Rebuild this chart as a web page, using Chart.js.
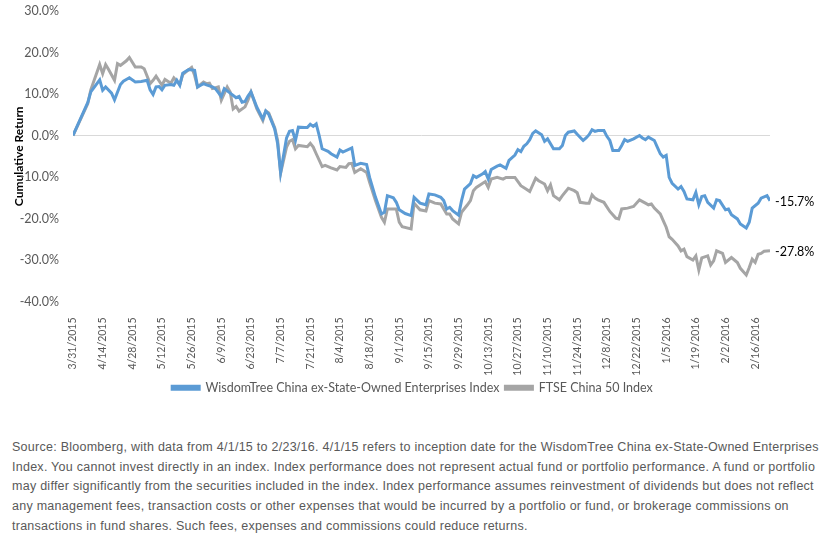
<!DOCTYPE html>
<html>
<head>
<meta charset="utf-8">
<script src="https://cdn.jsdelivr.net/npm/chart.js@4/dist/chart.umd.min.js"></script>
<style>
  html, body { margin: 0; padding: 0; background: #fff; }
  #wrap { position: absolute; left: 0; top: 0; width: 825px; height: 410px; }
  #source {
    position: absolute; left: 12px; top: 438px; width: 801px;
    font-family: "Liberation Sans Narrow", "Arial Narrow", sans-serif;
    font-size: 12.5px; letter-spacing: 0.26px; line-height: 19.7px; color: #595959;
  }
  #source .j { text-align: justify; text-align-last: justify; white-space: nowrap; }
  #source .l { white-space: nowrap; }
</style>
</head>
<body>
<div id="wrap"><canvas id="chart"></canvas></div>
<div id="source">
  <div class="j">Source: Bloomberg, with data from 4/1/15 to 2/23/16. 4/1/15 refers to inception date for the WisdomTree China ex-State-Owned Enterprises</div>
  <div class="j">Index. You cannot invest directly in an index. Index performance does not represent actual fund or portfolio performance. A fund or portfolio</div>
  <div class="j">may differ significantly from the securities included in the index. Index performance assumes reinvestment of dividends but does not reflect</div>
  <div class="l">any management fees, transaction costs or other expenses that would be incurred by a portfolio or fund, or brokerage commissions on</div>
  <div class="l">transactions in fund shares. Such fees, expenses and commissions could reduce returns.</div>
</div>
<script>
// tick labels, one every 10 trading days starting 3/31/2015
const tickLabels = [
  "3/31/2015", "4/14/2015", "4/28/2015", "5/12/2015", "5/26/2015", "6/9/2015",
  "6/23/2015", "7/7/2015", "7/21/2015", "8/4/2015", "8/18/2015", "9/1/2015",
  "9/15/2015", "9/29/2015", "10/13/2015", "10/27/2015", "11/10/2015", "11/24/2015",
  "12/8/2015", "12/22/2015", "1/5/2016", "1/19/2016", "2/2/2016", "2/16/2016"
];

const seriesNames = ["WisdomTree China ex-State-Owned Enterprises Index", "FTSE China 50 Index"];
const endLabels = ["-15.7%", "-27.8%"];

// trading day index (0 = 3/31/2015) and cumulative return in %
const wtDays = [0,5,6,9,10,11,13,14,16,17,19,21,23,25,26,27,28,29,30,31,33,34,35,36,37,39,41,42,44,45,47,48,50,51,53,55,56,57,58,59,60,
  62,64,65,66,68,69,70,72,73,74,75,76,78,79,80,81,82,83,84,86,87,89,90,91,94,95,97,99,100,102,104,105,106,108,109,110,112,114,115,117,
  119,120,122,124,125,126,127,128,130,131,132,134,135,136,138,139,140,141,143,144,146,147,149,150,151,152,153,154,155,156,158,159,160,
  162,164,165,166,167,169,170,172,173,174,175,176,177,179,180,181,182,184,185,186,187,189,191,192,193,194,196,197,198,199,200,201,202,
  204,205,206,207,209,210,211,212,213,214,216,217,218,220,221,222,224,225,227,228,229,231,232,234,235];
const wtValues = [0,8.0,10.5,13.4,10.9,11.7,10.2,8.6,12.3,13.1,13.9,12.9,13.0,13.3,11.0,9.9,11.7,11.8,11.0,12.1,12.3,12.1,13.3,12.1,15.0,15.9,15.7,11.7,12.5,12.2,11.7,11.3,9.4,11.3,10.2,9.1,9.4,8.0,8.2,9.5,10.5,
  6.8,4.0,5.9,5.1,1.6,-2.0,-8.9,-0.6,1.0,1.2,-1.2,2.0,1.9,1.9,2.7,2.2,2.8,0,-3.2,-3.8,-4.4,-5.2,-3.5,-4.0,-3.0,-7.2,-6.7,-7.0,-10.1,-14.9,-18.9,-18.5,-14.5,-15.0,-16.1,-17.9,-18.8,-19.3,-14.9,-16.3,
  -16.7,-14.1,-14.3,-14.9,-15.7,-17.7,-17.3,-18.1,-19.2,-15.7,-12.9,-11.6,-9.7,-10.1,-9.3,-8.7,-10.5,-8.2,-7.4,-7.1,-7.9,-6.0,-4.7,-3.4,-3.9,-2.6,-2.0,-1.0,0.5,1.1,0.2,-1.4,-0.8,
  -3.2,-3.2,-2.4,0,0.8,1.1,0.3,-1.2,-0.6,0.2,1.4,1.0,1.2,1.2,-0.2,-1.2,-3.6,-3.6,-2.4,-1.0,-1.4,-0.8,0,-0.6,-1.0,-0.4,-1.2,-2.8,-4.4,-5.2,-4.8,-10.1,-11.5,
  -12.9,-12.3,-13.5,-15.3,-15.5,-13.7,-16.7,-14.7,-14.5,-16.1,-17.5,-15.5,-15.7,-17.9,-17.7,-19.1,-20.1,-21.3,-22.3,-20.9,-17.5,-16.3,-15.1,-14.5,-15.7];

const ftseDays = [0,5,6,9,10,11,12,14,15,16,18,19,21,23,24,26,27,28,30,31,33,34,36,37,38,40,41,42,44,45,46,47,49,50,52,53,54,55,56,58,59,60,
  62,64,65,66,68,69,70,72,73,74,75,76,79,80,81,82,84,85,87,89,90,92,93,94,95,97,99,100,102,104,105,106,107,109,110,111,114,115,117,
  119,120,122,124,126,127,128,130,131,133,134,135,136,139,140,141,143,145,146,149,151,153,154,156,157,159,160,161,162,164,165,167,169,170,
  171,173,174,175,176,177,179,181,183,184,185,187,189,191,193,194,195,196,198,199,200,201,202,204,205,206,207,209,210,211,212,214,215,
  216,217,219,220,222,224,225,227,228,229,230,231,232,233,235];
const ftseValues = [0,7.7,11.0,17.1,14.9,17.1,15.9,13.3,17.3,16.9,18.0,18.8,16.5,16.5,16.1,12.5,13.3,14.3,12.1,13.5,12.6,13.9,12.3,14.7,15.3,16.4,14.5,11.7,12.9,12.5,12.6,11.3,11.7,8.5,11.7,10.5,6.4,7.0,5.9,6.9,8.5,10.5,
  6.4,3.6,5.9,5.4,1.9,-1.2,-9.1,-2.8,-1.4,-1.0,-3.2,-2.4,-2.7,-1.9,-2.8,-4.4,-7.5,-7.2,-7.8,-8.3,-7.5,-7.7,-6.8,-6.7,-8.9,-8.0,-8.9,-11.3,-15.7,-19.7,-20.9,-17.7,-17.7,-17.7,-20.9,-22.0,-22.5,-16.3,-17.9,
  -18.2,-15.7,-16.3,-16.5,-18.9,-18.9,-20.1,-21.3,-18.5,-16.7,-15.7,-13.3,-12.5,-11.1,-12.5,-10.5,-10.1,-10.5,-10.1,-10.1,-12.1,-13.0,-13.5,-10.3,-10.9,-11.7,-13.3,-11.9,-14.5,-15.5,-14.5,-12.7,-13.3,-13.8,
  -16.1,-16.3,-16.3,-14.3,-15.1,-15.5,-16.1,-18.3,-19.9,-20.1,-17.7,-17.5,-17.1,-15.5,-16.3,-16.7,-16.5,-17.5,-18.9,-20.5,-22.1,-24.4,-25.0,-26.6,-27.8,-27.4,-29.2,-30.0,-29.0,-32.4,-29.5,-29.0,-31.2,
  -30.2,-27.8,-28.4,-30.6,-29.4,-30.6,-32.0,-33.6,-31.8,-29.8,-30.6,-28.6,-28.4,-27.9,-27.8];

const BLUE = "#5B9BD5";
const GRAY = "#A5A5A5";
const TEXT = "#595959";

function toPoints(days, vals) {
  return days.map((d, i) => ({ x: d, y: vals[i] }));
}

// writes the final value next to the end of each line
const endLabelPlugin = {
  id: "endLabels",
  afterDatasetsDraw(chart) {
    const ctx = chart.ctx;
    ctx.save();
    ctx.font = "12.5px Lato";
    ctx.fillStyle = "#000";
    ctx.textAlign = "left";
    ctx.textBaseline = "middle";
    chart.data.datasets.forEach((ds, i) => {
      const meta = chart.getDatasetMeta(i);
      const last = meta.data[meta.data.length - 1];
      ctx.fillText(endLabels[i], last.x + 5, last.y + 1);
    });
    ctx.restore();
  }
};

new Chart(document.getElementById("chart"), {
  type: "line",
  data: {
    datasets: [
      {
        label: seriesNames[0],
        data: toPoints(wtDays, wtValues),
        borderColor: BLUE,
        backgroundColor: BLUE,
        borderWidth: 3,
        pointRadius: 0,
        tension: 0
      },
      {
        label: seriesNames[1],
        data: toPoints(ftseDays, ftseValues),
        borderColor: GRAY,
        backgroundColor: GRAY,
        borderWidth: 3,
        pointRadius: 0,
        tension: 0
      }
    ]
  },
  options: {
    responsive: true,
    maintainAspectRatio: false,
    animation: false,
    layout: { padding: { top: 0, right: 0, bottom: 6, left: 0 } },
    plugins: {
      legend: {
        position: "bottom",
        labels: {
          boxWidth: 27,
          boxHeight: 3,
          padding: 6,
          color: TEXT,
          font: { family: "Lato", size: 12.5 }
        }
      },
      tooltip: { enabled: false }
    },
    scales: {
      x: {
        type: "linear",
        min: 0,
        max: 235,
        afterBuildTicks: (s) => { s.ticks = tickLabels.map((l, i) => ({ value: i * 10 })); },
        afterFit: (s) => { s.height = 74; },
        ticks: {
          autoSkip: false,
          minRotation: 90,
          maxRotation: 90,
          padding: 8,
          color: TEXT,
          font: { family: "Lato", size: 10.5 },
          callback: (v) => tickLabels[Math.round(v / 10)]
        },
        grid: { display: false },
        border: { display: false }
      },
      y: {
        min: -40,
        max: 30,
        afterFit: (s) => { s.width = 73; },
        ticks: {
          stepSize: 10,
          padding: 3.5,
          color: TEXT,
          font: { family: "Lato", size: 12.5 },
          callback: (v) => v.toFixed(1) + "%"
        },
        title: {
          display: true,
          text: "Cumulative Return",
          color: "#000",
          font: { family: "Lato", size: 12, weight: "bold" },
          padding: { top: 12, bottom: 0 }
        },
        grid: {
          drawTicks: true,
          tickLength: 10.5,
          tickColor: "rgba(0,0,0,0)",
          color: (c) => (c.tick && c.tick.value === 0 ? "#d9d9d9" : "rgba(0,0,0,0)")
        },
        border: { display: false }
      },
      // empty right axis, leaves room for the end labels
      yRight: {
        position: "right",
        min: -40,
        max: 30,
        afterFit: (s) => { s.width = 55; },
        ticks: { display: false },
        grid: { display: false },
        border: { display: false }
      }
    }
  },
  plugins: [endLabelPlugin]
});
</script>
</body>
</html>
